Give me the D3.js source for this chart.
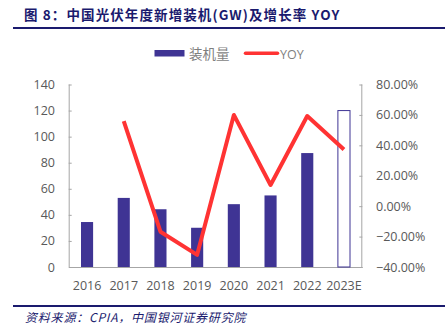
<!DOCTYPE html>
<html><head><meta charset="utf-8">
<script src="https://cdn.jsdelivr.net/npm/d3@7"></script>
<style>body{margin:0;background:#fff;}svg{display:block;}</style>
</head><body>
<script>
const categories = ["2016","2017","2018","2019","2020","2021","2022","2023E"];
const installs = [34.5, 53, 44.3, 30.1, 48.2, 54.9, 87.4, 120];
const yoy = [null, 0.559, -0.168, -0.32, 0.60, 0.139, 0.593, 0.373];
const leftTicks = [0,20,40,60,80,100,120,140];
const rightTicks = [-0.4,-0.2,0,0.2,0.4,0.6,0.8];
const titleText = "图 8：中国光伏年度新增装机(GW)及增长率 YOY";
const sourceText = "资料来源：CPIA，中国银河证券研究院";

const W=445,H=333;
const svg=d3.select("body").append("svg").attr("width",W).attr("height",H);
const navy="#1a1a6e", barC="#3f3494", red="#ff3333", gray="#595959", axisC="#a6a6a6";

svg.append("text").attr("x",24).attr("y",20).attr("font-family","'Noto Sans CJK SC','Liberation Serif',serif")
  .attr("font-weight","bold").attr("font-size",13.5).attr("fill",navy).attr("letter-spacing",1.1).text(titleText);
svg.append("line").attr("x1",13).attr("x2",445).attr("y1",28).attr("y2",28).attr("stroke",navy).attr("stroke-width",2);

const x=d3.scaleBand().domain(categories).range([68.7,362.3]).paddingInner(0.67).paddingOuter(0.335);
const band=d3.scaleBand().domain(categories).range([68.7,362.3]);
const yL=d3.scaleLinear().domain([0,140]).range([267,84.5]);
const yR=d3.scaleLinear().domain([-0.4,0.8]).range([267,84.5]);

const fontF="'Open Sans','Noto Sans','DejaVu Sans',sans-serif";
const gL=svg.append("g").attr("transform","translate(68.7,0)")
  .call(d3.axisRight(yL).tickValues(leftTicks).tickSize(3).tickFormat(d3.format("d")));
gL.selectAll("text").remove();
gL.selectAll("line,path").attr("stroke",axisC);
gL.select(".domain").attr("d","M0.5,84.5V267");
svg.append("g").selectAll("text").data(leftTicks).join("text")
  .attr("x",55).attr("y",d=>yL(d)+4.5).attr("text-anchor","end").attr("font-family",fontF).attr("font-size",12.5).attr("fill",gray).text(d=>d);

const gR=svg.append("g").attr("transform","translate(362.3,0)")
  .call(d3.axisLeft(yR).tickValues(rightTicks).tickSize(3));
gR.selectAll("text").remove();
gR.selectAll("line,path").attr("stroke",axisC);
gR.select(".domain").attr("d","M-0.5,84.5V267");
svg.append("g").selectAll("text").data(rightTicks).join("text")
  .attr("x",376).attr("y",d=>yR(d)+4.5).attr("font-family",fontF).attr("font-size",12.5).attr("fill",gray).text(d=>d3.format(".2%")(d));

const gB=svg.append("g").attr("transform","translate(0,267)").call(d3.axisBottom(band).tickSize(0));
gB.select(".domain").attr("stroke",axisC);
gB.selectAll("text").remove();
svg.append("g").selectAll("text").data(categories).join("text")
  .attr("x",d=>band(d)+band.bandwidth()/2).attr("y",290).attr("text-anchor","middle")
  .attr("font-family",fontF).attr("font-size",12.5).attr("fill",gray).text(d=>d);

svg.append("g").selectAll("rect").data(categories).join("rect")
  .attr("x",d=>x(d)).attr("width",x.bandwidth())
  .attr("y",(d,i)=>yL(installs[i])).attr("height",(d,i)=>267-yL(installs[i]))
  .attr("fill",(d,i)=>i===7?"#fff":barC).attr("stroke",(d,i)=>i===7?barC:"none").attr("stroke-width",1);

const pts=categories.map((c,i)=>({c,v:yoy[i]})).filter(d=>d.v!==null);
svg.append("path").datum(pts).attr("fill","none").attr("stroke",red).attr("stroke-width",4).attr("stroke-linejoin","round")
  .attr("d",d3.line().x(d=>band(d.c)+band.bandwidth()/2).y(d=>yR(d.v)));

svg.append("rect").attr("x",154.5).attr("y",50).attr("width",30).attr("height",6.5).attr("fill",barC);
svg.append("text").attr("x",189).attr("y",59).attr("font-family","'Noto Sans CJK SC',sans-serif").attr("font-size",13.5).attr("fill","#7f7f7f").text("装机量");
svg.append("line").attr("x1",245.5).attr("x2",277.5).attr("y1",53.3).attr("y2",53.3).attr("stroke",red).attr("stroke-width",3.5).attr("stroke-linecap","round");
svg.append("text").attr("x",280).attr("y",58.5).attr("font-family",fontF).attr("font-size",12.5).attr("fill","#7f7f7f").text("YOY");

svg.append("line").attr("x1",13).attr("x2",445).attr("y1",306).attr("y2",306).attr("stroke",navy).attr("stroke-width",2);
svg.append("text").attr("x",25).attr("y",322).attr("font-family","'Noto Sans CJK SC','Liberation Serif',serif").attr("font-style","italic")
  .attr("font-size",12).attr("fill",navy).attr("letter-spacing",0.8).text(sourceText);
</script>
</body></html>
